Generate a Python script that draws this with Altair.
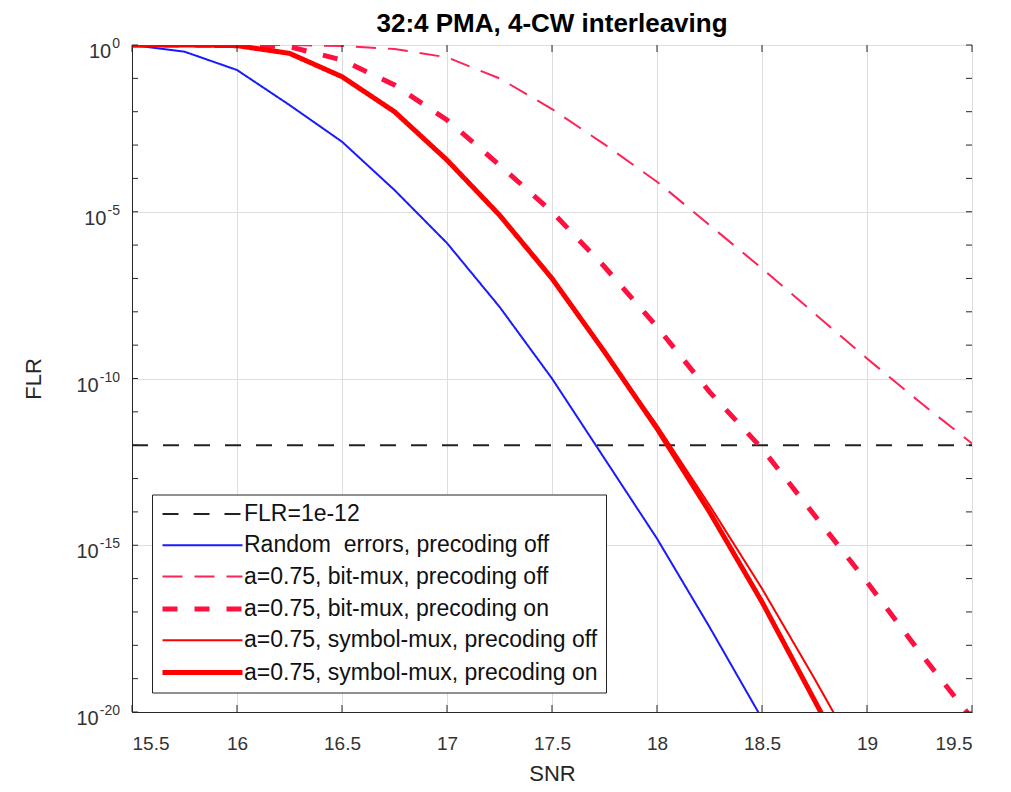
import altair as alt
import pandas as pd

# ---------------- data ----------------
snr_full = [15.5, 15.75, 16.0, 16.25, 16.5, 16.75, 17.0, 17.25, 17.5,
            17.75, 18.0, 18.25, 18.5, 18.75, 19.0, 19.25, 19.5]

flr_line_snr = [15.5, 19.5]
flr_line_exp = [-12, -12]

random_snr = [15.5, 15.75, 16.0, 16.25, 16.5, 16.75, 17.0, 17.25, 17.5, 17.75, 18.0, 18.25, 18.5]
random_exp = [0, -0.2, -0.75, -1.8, -2.9, -4.35, -5.94, -7.85, -10.0, -12.4, -14.8, -17.45, -20.2]

bitmux_off_snr = snr_full
bitmux_off_exp = [0, 0, 0, 0, -0.03, -0.12, -0.37, -1.0, -1.92, -2.98, -4.1, -5.4, -6.7,
                  -8.05, -9.4, -10.7, -11.95]

bitmux_on_snr = snr_full
bitmux_on_exp = [0, 0, 0, -0.05, -0.45, -1.2, -2.25, -3.6, -5.0, -6.65, -8.45, -10.4, -12.1,
                 -14.1, -16.1, -18.2, -20.2]

symmux_off_snr = snr_full[:15]
symmux_off_exp = [0, 0, -0.02, -0.25, -0.95, -2.0, -3.45, -5.1, -7.0, -9.2, -11.4, -13.8, -16.3,
                  -19.0, -21.8]

symmux_on_snr = snr_full[:15]
symmux_on_exp = [0, 0, -0.02, -0.25, -0.95, -2.0, -3.45, -5.1, -7.0, -9.2, -11.5, -14.0, -16.7,
                 -19.65, -22.6]

series_names = [
    "FLR=1e-12",
    "Random\u00a0 errors, precoding off",
    "a=0.75, bit-mux, precoding off",
    "a=0.75, bit-mux, precoding on",
    "a=0.75, symbol-mux, precoding off",
    "a=0.75, symbol-mux, precoding on",
]

x_ticks = [15.5, 16.0, 16.5, 17.0, 17.5, 18.0, 18.5, 19.0, 19.5]
y_grid_exp = [0, -5, -10, -15, -20]
y_label_base = ["10", "10", "10", "10", "10"]
y_label_exp = ["0", "-5", "-10", "-15", "-20"]
y_minor_exp = list(range(0, -21, -1))

title_text = "32:4 PMA, 4-CW interleaving"

# ---------------- build tables ----------------
rows = []
for name, xs, es in zip(series_names,
                        [flr_line_snr, random_snr, bitmux_off_snr, bitmux_on_snr, symmux_off_snr, symmux_on_snr],
                        [flr_line_exp, random_exp, bitmux_off_exp, bitmux_on_exp, symmux_off_exp, symmux_on_exp]):
    for x, e in zip(xs, es):
        rows.append({"series": name, "snr": x, "flr": 10.0 ** e})
df = pd.DataFrame(rows)

ylab_df = pd.DataFrame({
    "flr": [10.0 ** e for e in y_grid_exp],
    "base": y_label_base,
    "exp": y_label_exp,
})

W, H = 840, 667
FONT = "Liberation Sans"
TXT = "#262626"
LBL = "#333333"

colors = ["#222222", "#1a1aff", "#ff2257", "#ff1040", "#ff0000", "#ff0000"]
dashes = [[16, 15], [1, 0], [20, 12], [15, 17], [1, 0], [1, 0]]
widths = [2, 2, 2, 5, 2, 5]

xscale = alt.Scale(domain=[15.5, 19.5], nice=False, zero=False)
yscale = alt.Scale(type="log", domain=[1e-20, 1], nice=False)

legend = alt.Legend(
    title=None, orient="none", legendX=20, legendY=449.5,
    fillColor="white", strokeColor="#222222", padding=8,
    symbolType="M-1,0L7,0", symbolSize=400, labelOffset=59,
    labelFontSize=23, labelFont=FONT, labelColor="#111111", labelLimit=0,
    rowPadding=7.3,
)

lines = alt.Chart(df).mark_line(clip=True, strokeCap="butt").encode(
    x=alt.X("snr:Q", scale=xscale,
            axis=alt.Axis(values=x_ticks, grid=True, ticks=False, tickSize=0, title="SNR", format="~g",
                          labelPadding=22, titleY=61, titleBaseline="middle")),
    y=alt.Y("flr:Q", scale=yscale,
            axis=alt.Axis(values=[10.0 ** e for e in y_grid_exp], grid=True, ticks=False, tickSize=0,
                          labels=False, title="FLR",
                          titleX=-99, titleY=H / 2, titleBaseline="middle", titleAlign="center")),
    color=alt.Color("series:N", scale=alt.Scale(domain=series_names, range=colors), legend=legend),
    strokeDash=alt.StrokeDash("series:N", scale=alt.Scale(domain=series_names, range=dashes), legend=legend),
    strokeWidth=alt.StrokeWidth("series:N", scale=alt.Scale(type="ordinal", domain=series_names, range=widths),
                                legend=legend),
)

# y tick labels as 10 with a raised exponent (MATLAB style)
exp_labels = alt.Chart(ylab_df).mark_text(
    align="right", baseline="middle", fontSize=14, font=FONT, color=LBL, dy=-1
).encode(y=alt.Y("flr:Q", scale=yscale), x=alt.value(-12), text="exp:N")

base_labels = alt.Chart(ylab_df).transform_calculate(
    bx="-13 - 7.8*length(replace(datum.exp, '-', '')) - 4.7*(length(datum.exp) - length(replace(datum.exp, '-', '')))"
).mark_text(
    align="right", baseline="middle", fontSize=20, font=FONT, color=LBL, dy=7
).encode(y=alt.Y("flr:Q", scale=yscale), x=alt.X("bx:Q", scale=None), text="base:N")

# inward tick marks (MATLAB style box ticks)
ydf = pd.DataFrame({"flr": [10.0 ** e for e in y_minor_exp]})
xdf = pd.DataFrame({"snr": x_ticks})
tick_color = "#262626"
left_ticks = alt.Chart(ydf).mark_rule(color=tick_color, strokeWidth=1).encode(
    y=alt.Y("flr:Q", scale=yscale), x=alt.value(0), x2=alt.value(6))
right_ticks = alt.Chart(ydf).mark_rule(color=tick_color, strokeWidth=1).encode(
    y=alt.Y("flr:Q", scale=yscale), x=alt.value(W - 6), x2=alt.value(W))
bottom_ticks = alt.Chart(xdf).mark_rule(color=tick_color, strokeWidth=1).encode(
    x=alt.X("snr:Q", scale=xscale), y=alt.value(H - 7), y2=alt.value(H))
top_ticks = alt.Chart(xdf).mark_rule(color=tick_color, strokeWidth=1).encode(
    x=alt.X("snr:Q", scale=xscale), y=alt.value(0), y2=alt.value(7))

chart = alt.layer(lines, exp_labels, base_labels, left_ticks, right_ticks, bottom_ticks, top_ticks).properties(
    width=W, height=H,
    title=alt.Title(title_text, fontSize=26, font=FONT, fontWeight="bold", color="#000000",
                    anchor="middle", offset=0),
    autosize=alt.AutoSizeParams(type="none"),
    padding={"left": 124, "top": 37, "right": 30, "bottom": 72},
    background="white",
).configure_view(
    stroke=TXT, strokeWidth=1
).configure_axis(
    labelFont=FONT, titleFont=FONT, labelFontSize=19, titleFontSize=22,
    labelColor=LBL, titleColor=TXT, titleFontWeight="normal",
    domainColor=TXT, domainWidth=1, gridColor="#dedede", gridWidth=1,
)

chart.save("out.html", embed_options={"renderer": "svg", "actions": False})
